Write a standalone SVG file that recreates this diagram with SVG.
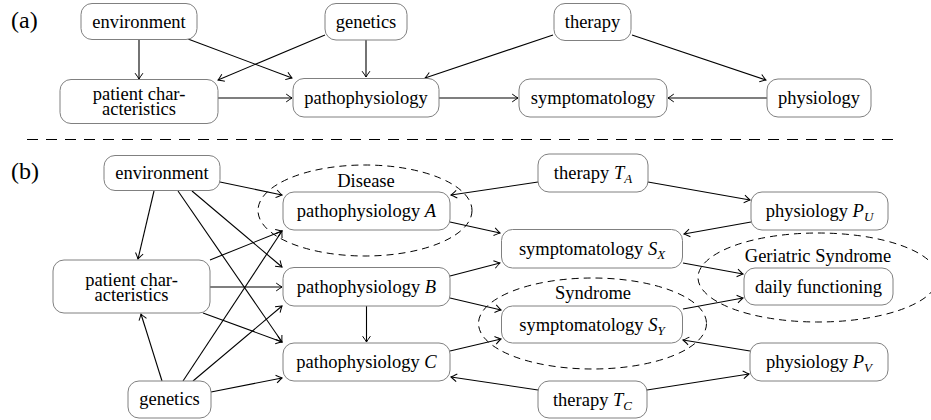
<svg xmlns="http://www.w3.org/2000/svg" width="931" height="420" viewBox="0 0 931 420">
<style>
.box{fill:#fff;stroke:#808080;stroke-width:1}
text{font-family:'Liberation Serif','DejaVu Serif',serif;fill:#000}
.t{font-size:18.5px;text-anchor:middle}
.lab{font-size:24px}
.m{font-style:italic}
.s{font-style:italic;font-size:13px}
.e{stroke:#000;stroke-width:1.1;fill:none;marker-end:url(#ar)}
.el{fill:none;stroke:#000;stroke-width:1;stroke-dasharray:7 5}
.sep{fill:none;stroke:#000;stroke-width:1.2;stroke-dasharray:11 8}
</style>
<defs>
<marker id="ar" markerWidth="12" markerHeight="12" refX="10" refY="6" orient="auto" markerUnits="userSpaceOnUse">
<path d="M4.2,2.1 Q8.5,5.2 10,6 Q8.5,6.8 4.2,9.9" fill="none" stroke="#000" stroke-width="1"/>
</marker>
</defs>
<rect width="931" height="420" fill="#fff"/>
<text class="lab" x="11" y="28">(a)</text>
<text class="lab" x="11" y="179">(b)</text>
<line class="sep" x1="27" y1="139.5" x2="901" y2="139.5"/>
<g id="groups">
<ellipse class="el" cx="365" cy="210.5" rx="107" ry="45.5"/>
<ellipse class="el" cx="592.5" cy="323.5" rx="114" ry="45.5"/>
<ellipse class="el" cx="818" cy="277.5" rx="120" ry="44.5"/>
<text class="t" x="366" y="187">Disease</text>
<text class="t" x="593" y="298.5">Syndrome</text>
<text class="t" x="818" y="261.5">Geriatric Syndrome</text>
</g>
<g id="connectors">
<line class="e" x1="139" y1="39" x2="139" y2="79"/>
<line class="e" x1="188" y1="39" x2="292" y2="78"/>
<line class="e" x1="325" y1="35" x2="218" y2="80"/>
<line class="e" x1="366" y1="40" x2="366" y2="77"/>
<line class="e" x1="218" y1="98" x2="292" y2="98"/>
<line class="e" x1="553" y1="35" x2="425" y2="78"/>
<line class="e" x1="439" y1="98" x2="518" y2="98"/>
<line class="e" x1="632" y1="35" x2="766" y2="80"/>
<line class="e" x1="767" y1="98" x2="668" y2="98"/>
<line class="e" x1="154" y1="191" x2="138" y2="259"/>
<line class="e" x1="220" y1="182" x2="282" y2="195"/>
<line class="e" x1="192" y1="191" x2="282" y2="267"/>
<line class="e" x1="178" y1="191" x2="282" y2="342"/>
<line class="e" x1="210" y1="260" x2="282" y2="231"/>
<line class="e" x1="210" y1="287" x2="282" y2="287"/>
<line class="e" x1="203" y1="313" x2="282" y2="342"/>
<line class="e" x1="162" y1="381" x2="141" y2="314"/>
<line class="e" x1="183" y1="381" x2="282" y2="231"/>
<line class="e" x1="193" y1="381" x2="282" y2="306"/>
<line class="e" x1="211" y1="392" x2="282" y2="378"/>
<line class="e" x1="366.5" y1="306" x2="366.5" y2="342"/>
<line class="e" x1="538" y1="182" x2="451" y2="195"/>
<line class="e" x1="648" y1="182" x2="750" y2="200"/>
<line class="e" x1="450" y1="222" x2="500" y2="233"/>
<line class="e" x1="751" y1="222" x2="684" y2="234"/>
<line class="e" x1="450" y1="276" x2="500" y2="263"/>
<line class="e" x1="450" y1="298" x2="501" y2="310"/>
<line class="e" x1="450" y1="351" x2="501" y2="339"/>
<line class="e" x1="538" y1="390" x2="451" y2="377"/>
<line class="e" x1="647" y1="390" x2="749" y2="374"/>
<line class="e" x1="750" y1="351" x2="683" y2="340"/>
<line class="e" x1="683" y1="263" x2="743" y2="274"/>
<line class="e" x1="683" y1="309" x2="743" y2="298"/>
</g>
<g id="a-environment"><rect class="box" x="81" y="3.5" width="116" height="36" rx="11"/><text class="t" x="139" y="27.5">environment</text></g>
<g id="a-genetics"><rect class="box" x="325" y="3.5" width="82" height="36.5" rx="11"/><text class="t" x="366" y="27.5">genetics</text></g>
<g id="a-therapy"><rect class="box" x="554" y="3.5" width="77" height="37" rx="11"/><text class="t" x="592.5" y="27.5">therapy</text></g>
<g id="a-patient"><rect class="box" x="60" y="79.5" width="158" height="44" rx="11"/><text class="t" x="139" y="100">patient char-</text><text class="t" x="139" y="115">acteristics</text></g>
<g id="a-patho"><rect class="box" x="293" y="78.5" width="146" height="38.5" rx="11"/><text class="t" x="366" y="103.5">pathophysiology</text></g>
<g id="a-symp"><rect class="box" x="519" y="79" width="148" height="38" rx="11"/><text class="t" x="593" y="103.5">symptomatology</text></g>
<g id="a-phys"><rect class="box" x="767" y="79" width="104" height="38" rx="11"/><text class="t" x="819" y="103.5">physiology</text></g>
<g id="b-environment"><rect class="box" x="104" y="155.5" width="116" height="35" rx="11"/><text class="t" x="162" y="179">environment</text></g>
<g id="b-patient"><rect class="box" x="53" y="260" width="157" height="53" rx="11"/><text class="t" x="131.5" y="285.5">patient char-</text><text class="t" x="131.5" y="300.5">acteristics</text></g>
<g id="b-genetics"><rect class="box" x="128" y="381" width="83" height="37" rx="11"/><text class="t" x="169.5" y="405">genetics</text></g>
<g id="b-pathoA"><rect class="box" x="283" y="192" width="167" height="38" rx="11"/><text class="t" x="366.5" y="217">pathophysiology <tspan class="m">A</tspan></text></g>
<g id="b-pathoB"><rect class="box" x="283" y="267.5" width="167" height="38.5" rx="11"/><text class="t" x="366.5" y="292.5">pathophysiology <tspan class="m">B</tspan></text></g>
<g id="b-pathoC"><rect class="box" x="283" y="343" width="167" height="38" rx="11"/><text class="t" x="366.5" y="368">pathophysiology <tspan class="m">C</tspan></text></g>
<g id="b-therapyA"><rect class="box" x="538" y="154" width="110" height="38" rx="11"/><text class="t" x="593" y="179">therapy <tspan class="m">T</tspan><tspan class="s" dy="4">A</tspan></text></g>
<g id="b-physU"><rect class="box" x="751" y="192" width="137" height="38" rx="11"/><text class="t" x="819.5" y="217">physiology <tspan class="m">P</tspan><tspan class="s" dy="4">U</tspan></text></g>
<g id="b-sympX"><rect class="box" x="501.5" y="229.5" width="181" height="38.5" rx="11"/><text class="t" x="592" y="254.5">symptomatology <tspan class="m">S</tspan><tspan class="s" dy="4">X</tspan></text></g>
<g id="b-daily"><rect class="box" x="744" y="268" width="149" height="37" rx="11"/><text class="t" x="818.5" y="292.5">daily functioning</text></g>
<g id="b-sympY"><rect class="box" x="501.5" y="306" width="181" height="37" rx="11"/><text class="t" x="592" y="330.5">symptomatology <tspan class="m">S</tspan><tspan class="s" dy="4">Y</tspan></text></g>
<g id="b-physV"><rect class="box" x="750" y="343" width="138" height="38" rx="11"/><text class="t" x="819" y="368">physiology <tspan class="m">P</tspan><tspan class="s" dy="4">V</tspan></text></g>
<g id="b-therapyC"><rect class="box" x="538" y="381" width="109" height="37" rx="11"/><text class="t" x="592.5" y="405.5">therapy <tspan class="m">T</tspan><tspan class="s" dy="4">C</tspan></text></g>
</svg>
